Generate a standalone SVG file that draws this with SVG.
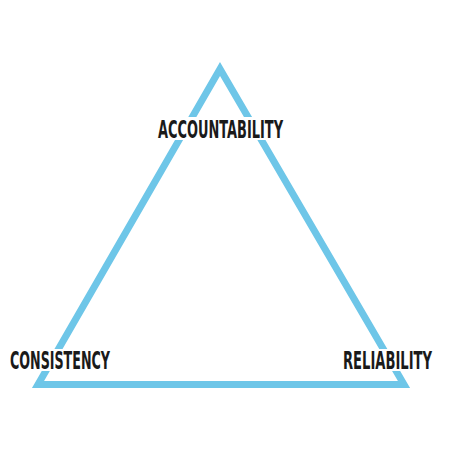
<svg xmlns="http://www.w3.org/2000/svg" width="450" height="450" viewBox="0 0 450 450">
<style>
.lbl{font-family:"Liberation Sans Narrow","DejaVu Sans Condensed","Liberation Sans",sans-serif;font-weight:bold;font-size:24.5px;fill:#1a1a1a}
.bg{fill:#ffffff}
</style>
<rect width="450" height="450" fill="#ffffff"/>
<g id="connectors">
<polygon points="220,69 38,384.5 404,384.5" fill="none" stroke="#6EC6E8" stroke-width="7" stroke-linejoin="miter"/>
</g>
<g id="accountability">
<rect class="bg" x="155" y="117" width="132" height="23"/>
<text class="lbl" x="158" y="137.5" textLength="125" lengthAdjust="spacingAndGlyphs">ACCOUNTABILITY</text>
</g>
<g id="consistency">
<rect class="bg" x="7" y="349" width="107" height="22"/>
<text class="lbl" x="10" y="368.5" textLength="100" lengthAdjust="spacingAndGlyphs">CONSISTENCY</text>
</g>
<g id="reliability">
<rect class="bg" x="340" y="349" width="95" height="22"/>
<text class="lbl" x="343" y="368.5" textLength="89" lengthAdjust="spacingAndGlyphs">RELIABILITY</text>
</g>
</svg>
